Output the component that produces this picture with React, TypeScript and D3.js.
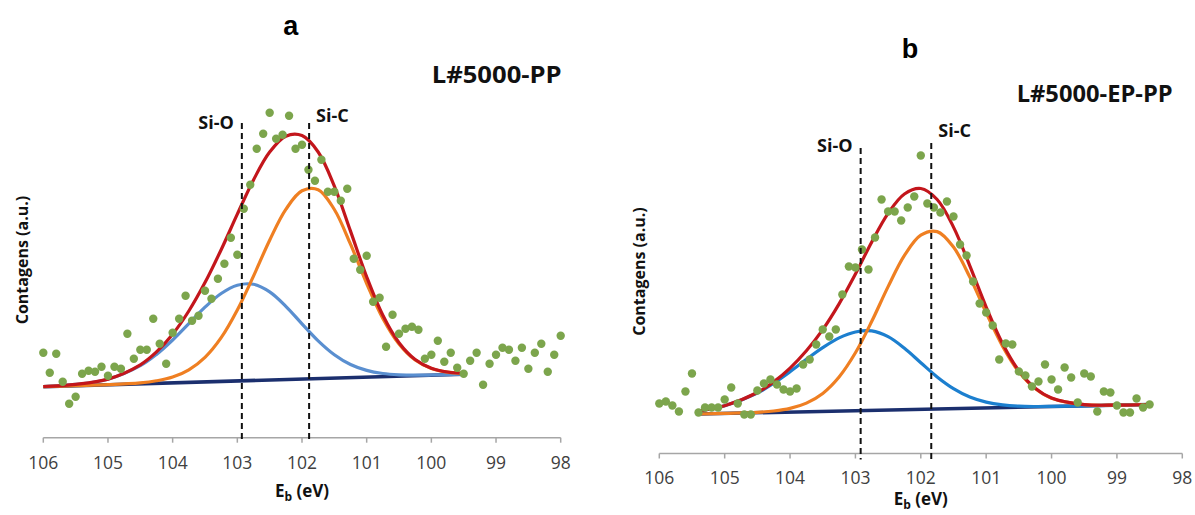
import React from 'react';
import * as d3 from 'd3';

// ---------- data ----------
const TICKS = [106, 105, 104, 103, 102, 101, 100, 99, 98];

const ENERGY = [
  106.0, 105.9, 105.8, 105.7, 105.6, 105.5, 105.4, 105.3, 105.2, 105.1,
  105.0, 104.9, 104.8, 104.7, 104.6, 104.5, 104.4, 104.3, 104.2, 104.1,
  104.0, 103.9, 103.8, 103.7, 103.6, 103.5, 103.4, 103.3, 103.2, 103.1,
  103.0, 102.9, 102.8, 102.7, 102.6, 102.5, 102.4, 102.3, 102.2, 102.1,
  102.0, 101.9, 101.8, 101.7, 101.6, 101.5, 101.4, 101.3, 101.2, 101.1,
  101.0, 100.9, 100.8, 100.7, 100.6, 100.5, 100.4, 100.3, 100.2, 100.1,
  100.0, 99.9, 99.8, 99.7, 99.6, 99.5, 99.4, 99.3, 99.2, 99.1,
  99.0, 98.9, 98.8, 98.7, 98.6, 98.5, 98.4, 98.3, 98.2, 98.1,
  98.0,
];

// panel a: L#5000-PP measured counts (a.u.)
const COUNTS_A = [
  85, 65, 84, 56, 34, 41, 64, 67, 66, 71,
  62, 71, 69, 104, 79, 88, 88, 119, 94, 74,
  105, 119, 142, 117, 122, 147, 139, 159, 174, 200,
  183, 229, 253, 289, 304, 325, 299, 303, 322, 289,
  293, 268, 257, 278, 246, 246, 237, 249, 179, 168,
  182, 136, 140, 91, 123, 104, 109, 111, 108, 79,
  83, 97, 76, 85, 70, 64, 77, 85, 53, 74,
  83, 90, 88, 77, 90, 69, 85, 94, 66, 83,
  102,
];

// panel b: L#5000-EP-PP measured counts (a.u.)
const COUNTS_B = [
  50, 52, 48, 42, 62, 80, 41, 46, 46, 46,
  54, 66, 50, 39, 39, 63, 70, 74, 69, 64,
  62, 65, 89, 94, 109, 124, 117, 124, 159, 187,
  186, 204, 184, 216, 254, 242, 242, 233, 246, 257,
  298, 250, 246, 241, 252, 237, 209, 198, 172, 150,
  141, 128, 94, 110, 109, 82, 78, 67, 72, 89,
  74, 64, 86, 76, 51, 80, 77, 42, 62, 61,
  48, 41, 41, 55, 46, 49,
];

// fitted components, panel a
const FIT_E_A = [106, 105.5, 105, 104.5, 104.25, 104, 103.75, 103.5, 103.25, 103, 102.75, 102.5, 102.25, 102, 101.75, 101.5, 101.25, 101, 100.75, 100.5, 100.25, 100, 99.75, 99.5];
const SIO_A = [51.2, 53.3, 58.5, 72.0, 83.3, 97.7, 114.1, 130.5, 144.2, 152.5, 153.4, 145.8, 131.4, 113.9, 96.9, 83.0, 73.2, 67.3, 64.2, 62.9, 62.5, 62.7, 63.1, 63.5];
const SIC_A = [51.0, 52.0, 53.0, 54.8, 56.9, 60.6, 67.9, 80.4, 100.1, 127.8, 161.6, 197.5, 228.3, 246.9, 248.0, 228.2, 193.5, 154.2, 119.3, 93.7, 77.7, 69.3, 65.6, 64.4];
const ENV_A = [51.2, 53.3, 58.6, 72.9, 85.8, 103.5, 126.7, 155.1, 188.0, 223.5, 257.8, 285.6, 301.5, 302.1, 285.7, 251.6, 206.6, 160.9, 122.4, 95.0, 78.2, 69.5, 65.7, 64.4];
const BASE_E_A = [106, 99.5];
const BASE_A = [51.0, 63.5];

// fitted components, panel b
const FIT_E_B = [105.4, 105, 104.5, 104.25, 104, 103.75, 103.5, 103.25, 103, 102.75, 102.5, 102.25, 102, 101.75, 101.5, 101.25, 101, 100.75, 100.5, 100.25, 100, 99.5, 99, 98.5];
const SIO_B = [42.4, 47.7, 60.5, 70.2, 81.7, 94.1, 105.8, 115.6, 121.5, 122.6, 116.8, 105.2, 90.8, 76.6, 64.9, 56.5, 51.4, 48.6, 47.3, 47.0, 47.1, 47.6, 48.3, 49.0];
const SIC_B = [39.5, 40.2, 41.2, 42.5, 45.1, 50.4, 60.1, 76.5, 100.7, 132.2, 166.9, 198.1, 218.4, 221.9, 206.4, 176.4, 140.7, 107.4, 81.7, 64.9, 55.3, 48.9, 48.4, 49.0];
const ENV_B = [42.4, 47.8, 61.0, 71.6, 85.4, 102.7, 123.8, 149.6, 179.4, 211.6, 240.2, 259.5, 265.0, 254.0, 226.4, 187.7, 146.5, 110.1, 82.8, 65.3, 55.5, 48.9, 48.4, 49.0];
const BASE_E_B = [105.4, 98.5];
const BASE_B = [39.5, 49.0];

// reference binding energies
const SIO_POS_A = 102.93;
const SIC_POS_A = 101.89;
const SIO_POS_B = 102.92;
const SIC_POS_B = 101.84;

// ---------- styling ----------
const FONT = "'Open Sans', 'DejaVu Sans', sans-serif";
const C_POINT = '#7ca54c';
const C_RED = '#c3161c';
const C_ORANGE = '#ef7f22';
const C_NAVY = '#1b2f6e';
const C_AXIS = '#a6a6a6';
const C_TICK_TEXT = '#404040';

type PanelProps = {
  x0: number; x1: number; axisY: number;
  energies: number[]; counts: number[];
  fitE: number[]; sio: number[]; sic: number[]; env: number[];
  baseE: number[]; base: number[];
  blue: string;
  sioPos: number; sicPos: number;
  sioTop: number; sicTop: number;
  sioLabelY: number; sicLabelY: number;
  dashExtra: number;
  tickLabelY: number; titleY: number;
  yLabelX: number; yLabelY: number;
  letter: string; letterX: number; letterY: number;
  name: string; nameX: number; nameY: number; nameLen: number;
};

function Panel(p: PanelProps) {
  const x = d3.scaleLinear().domain([106, 98]).range([p.x0, p.x1]);
  const y = d3.scaleLinear().domain([0, 330]).range([p.axisY, p.axisY - 330]);
  const line = d3
    .line<[number, number]>()
    .x((d) => x(d[0]))
    .y((d) => y(d[1]))
    .curve(d3.curveCatmullRom.alpha(0.5));
  const straight = d3
    .line<[number, number]>()
    .x((d) => x(d[0]))
    .y((d) => y(d[1]));
  const zip = (a: number[], b: number[]) => a.map((v, i) => [v, b[i]] as [number, number]);
  const xSio = x(p.sioPos);
  const xSic = x(p.sicPos);
  const xMid = (p.x0 + p.x1) / 2;

  return (
    <g>
      {/* axis */}
      <line x1={p.x0} x2={p.x1} y1={p.axisY} y2={p.axisY} stroke={C_AXIS} strokeWidth={1.5} />
      {TICKS.map((t) => (
        <g key={t}>
          <line x1={x(t)} x2={x(t)} y1={p.axisY} y2={p.axisY + 5} stroke={C_AXIS} strokeWidth={1.5} />
          <text x={x(t)} y={p.tickLabelY} textAnchor="middle" fontFamily={FONT} fontSize={17.5} fill={C_TICK_TEXT}>
            {t}
          </text>
        </g>
      ))}
      <text x={xMid} y={p.titleY} textAnchor="middle" fontFamily={FONT} fontSize={17} fontWeight="bold" fill="#111">
        <tspan>E</tspan>
        <tspan dy={4} fontSize={12}>b</tspan>
        <tspan dy={-4}> (eV)</tspan>
      </text>
      <text
        transform={`translate(${p.yLabelX},${p.yLabelY}) rotate(-90)`}
        textAnchor="middle"
        fontFamily={FONT}
        fontSize={16}
        fontWeight="bold"
        fill="#111"
      >
        Contagens (a.u.)
      </text>

      {/* fitted curves */}
      <path d={straight(zip(p.baseE, p.base)) || ''} fill="none" stroke={C_NAVY} strokeWidth={3.5} />
      <path d={line(zip(p.fitE, p.sio)) || ''} fill="none" stroke={p.blue} strokeWidth={3.2} />
      <path d={line(zip(p.fitE, p.sic)) || ''} fill="none" stroke={C_ORANGE} strokeWidth={3.2} />
      <path d={line(zip(p.fitE, p.env)) || ''} fill="none" stroke={C_RED} strokeWidth={3.2} />

      {/* measured points */}
      {p.counts.map((c, i) => (
        <circle key={i} cx={x(p.energies[i])} cy={y(c)} r={4.2} fill={C_POINT} />
      ))}

      {/* reference lines */}
      <line x1={xSio} x2={xSio} y1={p.sioTop} y2={p.axisY + p.dashExtra} stroke="#111" strokeWidth={2} strokeDasharray="6 4" />
      <line x1={xSic} x2={xSic} y1={p.sicTop} y2={p.axisY + p.dashExtra} stroke="#111" strokeWidth={2} strokeDasharray="6 4" />
      <text x={xSio - 8} y={p.sioLabelY} textAnchor="end" fontFamily={FONT} fontSize={18} fontWeight="bold" fill="#111">
        Si-O
      </text>
      <text x={xSic + 7} y={p.sicLabelY} textAnchor="start" fontFamily={FONT} fontSize={18} fontWeight="bold" fill="#111">
        Si-C
      </text>

      {/* titles */}
      <text x={p.letterX} y={p.letterY} textAnchor="middle" fontFamily="'Liberation Sans', Arial, sans-serif" fontSize={27} fontWeight="bold" fill="#000">
        {p.letter}
      </text>
      <text
        x={p.nameX}
        y={p.nameY}
        fontFamily={FONT}
        fontSize={23}
        fontWeight="bold"
        fill="#111"
        textLength={p.nameLen}
        lengthAdjust="spacingAndGlyphs"
      >
        {p.name}
      </text>
    </g>
  );
}

export default function App() {
  return (
    <svg
      width={1195}
      height={515}
      viewBox="0 0 1195 515"
      style={{ position: 'absolute', left: 0, top: 0, background: '#fff' }}
    >
      <rect x={0} y={0} width={1195} height={515} fill="#fff" />
      <Panel
        x0={43.3}
        x1={560.7}
        axisY={437.7}
        energies={ENERGY}
        counts={COUNTS_A}
        fitE={FIT_E_A}
        sio={SIO_A}
        sic={SIC_A}
        env={ENV_A}
        baseE={BASE_E_A}
        base={BASE_A}
        blue="#5a8fd0"
        sioPos={SIO_POS_A}
        sicPos={SIC_POS_A}
        sioTop={123}
        sicTop={123}
        sioLabelY={128.5}
        sicLabelY={122}
        dashExtra={2}
        tickLabelY={469}
        titleY={497}
        yLabelX={28}
        yLabelY={260}
        letter="a"
        letterX={290.7}
        letterY={35}
        name="L#5000-PP"
        nameX={431.7}
        nameY={83}
        nameLen={130}
      />
      <Panel
        x0={659.3}
        x1={1182.3}
        axisY={453.5}
        energies={ENERGY}
        counts={COUNTS_B}
        fitE={FIT_E_B}
        sio={SIO_B}
        sic={SIC_B}
        env={ENV_B}
        baseE={BASE_E_B}
        base={BASE_B}
        blue="#1c7fcf"
        sioPos={SIO_POS_B}
        sicPos={SIC_POS_B}
        sioTop={148}
        sicTop={143}
        sioLabelY={151.5}
        sicLabelY={136.5}
        dashExtra={6}
        tickLabelY={484}
        titleY={505}
        yLabelX={645}
        yLabelY={271.5}
        letter="b"
        letterX={910}
        letterY={58}
        name="L#5000-EP-PP"
        nameX={1016.7}
        nameY={102}
        nameLen={156}
      />
    </svg>
  );
}
